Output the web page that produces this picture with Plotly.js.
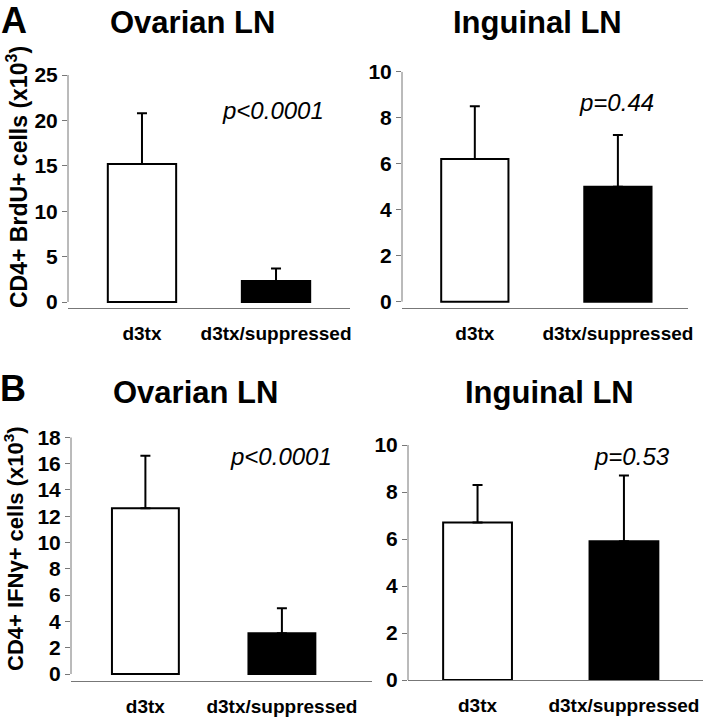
<!DOCTYPE html>
<html>
<head>
<meta charset="utf-8">
<script src="https://cdn.plot.ly/plotly-3.0.1.min.js"></script>
<style>html,body{margin:0;padding:0;background:#fff;}#chart{width:711px;height:719px;}</style>
</head>
<body>
<div id="chart"></div>
<script>
// ---- data ----
var categories = ["d3tx", "d3tx/suppressed"];
var brduOvarianMean = [15.2, 2.3];
var brduOvarianErr = [5.6, 1.4];
var brduInguinalMean = [6.2, 5.0];
var brduInguinalErr = [2.3, 2.25];
var ifngOvarianMean = [12.6, 3.1];
var ifngOvarianErr = [4.0, 1.9];
var ifngInguinalMean = [6.7, 5.9];
var ifngInguinalErr = [1.6, 2.8];
var panelTitles = ["Ovarian LN", "Inguinal LN", "Ovarian LN", "Inguinal LN"];
var pValues = ["p<0.0001", "p=0.44", "p<0.0001", "p=0.53"];
var yTitles = ["CD4+ BrdU+ cells (x10<sup>3</sup>)", "CD4+ IFN\u03b3+ cells (x10<sup>3</sup>)"];

// ---- styles ----
var FONT = "Liberation Sans, Arial, Helvetica, sans-serif";
var fills = ["#ffffff", "#000000"];
var W = 711, H = 719;
function px(x) { return x / W; }
function py(y) { return 1 - y / H; }

function barTrace(means, errs, xa, ya) {
  return {
    type: "bar", x: categories, y: means, xaxis: xa, yaxis: ya,
    marker: { color: fills, line: { color: "#000", width: 2 } },
    error_y: { type: "data", array: errs, arrayminus: errs.map(function(){return 0;}), symmetric: false,
               color: "#000", thickness: 2, width: 5 },
    showlegend: false, hoverinfo: "skip"
  };
}

var data = [
  Object.assign(barTrace(brduOvarianMean, brduOvarianErr, "x", "y"), { width: 0.51 }),
  Object.assign(barTrace(brduInguinalMean, brduInguinalErr, "x2", "y2"), { width: 0.47 }),
  Object.assign(barTrace(ifngOvarianMean, ifngOvarianErr, "x3", "y3"), { width: 0.49 }),
  Object.assign(barTrace(ifngInguinalMean, ifngInguinalErr, "x4", "y4"), { width: 0.47 })
];

function xAxis(d, r, ya) {
  return { domain: d, range: r, anchor: ya, type: "category", showline: true, linecolor: "#777", linewidth: 1,
           ticks: "outside", ticklen: 8, tickcolor: "rgba(0,0,0,0)", showgrid: false, zeroline: false, fixedrange: true,
           tickfont: { family: FONT, size: 19, color: "#000", weight: 700 } };
}
function yAxis(d, r, dt, xa) {
  return { domain: d, range: r, dtick: dt, tick0: 0, anchor: xa, showline: false, showgrid: false, zeroline: false,
           ticks: "outside", ticklen: 5, tickcolor: "#777", tickwidth: 1, fixedrange: true,
           tickfont: { family: FONT, size: 21, color: "#000", weight: 700 } };
}

var layout = {
  width: W, height: H, margin: { l: 0, r: 0, t: 0, b: 0 },
  paper_bgcolor: "#fff", plot_bgcolor: "rgba(0,0,0,0)",
  xaxis: xAxis([px(68), px(350)], [-0.552, 1.552], "y"),
  yaxis: yAxis([py(308), py(75)], [-0.66, 25], 5, "x"),
  xaxis2: xAxis([px(402), px(688)], [-0.509, 1.49], "y2"),
  yaxis2: yAxis([py(308.3), py(71.7)], [-0.29, 10], 2, "x2"),
  xaxis3: xAxis([px(71), px(372)], [-0.545, 1.66], "y3"),
  yaxis3: yAxis([py(681), py(437.3)], [-0.53, 18], 2, "x3"),
  xaxis4: xAxis([px(408), px(703)], [-0.475, 1.54], "y4"),
  yaxis4: yAxis([py(680), py(445)], [0, 10], 2, "x4"),
  shapes: [
    { type: "line", xref: "x domain", yref: "y", x0: 0, x1: 0, y0: 0, y1: 25, line: { color: "#777", width: 1 } },
    { type: "line", xref: "x2 domain", yref: "y2", x0: 0, x1: 0, y0: 0, y1: 10, line: { color: "#777", width: 1 } },
    { type: "line", xref: "x3 domain", yref: "y3", x0: 0, x1: 0, y0: 0, y1: 18, line: { color: "#777", width: 1 } },
    { type: "line", xref: "x4 domain", yref: "y4", x0: 0, x1: 0, y0: 0, y1: 10, line: { color: "#777", width: 1 } }
  ],
  annotations: []
};

function ann(text, x, y, size, opts) {
  var a = { text: text, xref: "paper", yref: "paper", x: px(x), y: py(y), xanchor: "center", yanchor: "middle",
            showarrow: false, font: { family: FONT, size: size, color: "#000" } };
  return Object.assign(a, opts || {});
}
var A = layout.annotations;
A.push(ann("<b>A</b>", 14, 20, 36));
A.push(ann("<b>B</b>", 13, 389, 36));
A.push(ann("<b>" + panelTitles[0] + "</b>", 193, 22, 31));
A.push(ann("<b>" + panelTitles[1] + "</b>", 537, 22, 31));
A.push(ann("<b>" + panelTitles[2] + "</b>", 195, 392, 31));
A.push(ann("<b>" + panelTitles[3] + "</b>", 549, 392, 31));
A.push(ann("<i>" + pValues[0] + "</i>", 273, 110, 24));
A.push(ann("<i>" + pValues[1] + "</i>", 616, 103, 24));
A.push(ann("<i>" + pValues[2] + "</i>", 281, 456, 24));
A.push(ann("<i>" + pValues[3] + "</i>", 632, 456, 24));
A.push(ann("<b>" + yTitles[0] + "</b>", 17, 177, 23, { textangle: -90 }));
A.push(ann("<b>" + yTitles[1] + "</b>", 14, 549, 22, { textangle: -90 }));

Plotly.newPlot("chart", data, layout, { staticPlot: true, displayModeBar: false });
</script>
</body>
</html>
